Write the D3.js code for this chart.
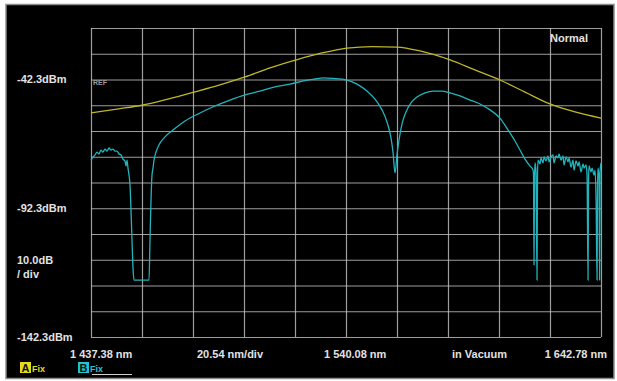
<!DOCTYPE html>
<html>
<head>
<meta charset="utf-8">
<script src="https://cdn.jsdelivr.net/npm/d3@7"></script>
<style>
	body { margin: 0; background: #fff; }
	svg { display: block; }
	text { font-family: "Liberation Sans", Arial, sans-serif; font-weight: bold; }
</style>
</head>
<body>
<svg id="chart" width="617" height="381"></svg>
<script>
(function (d3) {
	"use strict";

	/***** Data *****/

	// Axis settings
	var startNm = 1437.38;
	var nmPerDiv = 20.54;
	var xDivs = 10;
	var refDbm = -22.3;    // top of the screen
	var dbPerDiv = 10;
	var yDivs = 12;

	var yLabels = [-42.3, -92.3, -142.3];
	var xLabels = ["1 437.38 nm", "20.54 nm/div", "1 540.08 nm", "in Vacuum", "1 642.78 nm"];

	// Trace A (yellow), nm / dBm
	var traceA_nm = [1437.4, 1447.8, 1458.3, 1468.4, 1478.9, 1489.3, 1499.4, 1509.5, 1520.0, 1530.4,
		1540.5, 1550.6, 1560.6, 1569.9, 1582.0, 1592.0, 1602.1, 1612.2, 1622.2, 1632.3, 1642.78];
	var traceA_dbm = [-55.3, -53.8, -52.2, -49.9, -47.2, -44.4, -41.3, -37.8, -34.7, -32.0,
		-30.1, -29.5, -29.7, -31.2, -34.7, -38.6, -42.5, -47.2, -51.8, -54.9, -57.3];

	// Trace B (cyan), nm / dBm
	var traceB_nm = [1437.38, 1438.19, 1438.99, 1439.80, 1440.60, 1441.41, 1442.21, 1443.02, 1443.82, 1444.63,
		1445.43, 1446.24, 1447.04, 1447.85, 1448.66, 1449.46, 1450.27, 1451.07, 1451.48, 1451.88,
		1452.28, 1452.68, 1453.09, 1453.49, 1453.89, 1454.30, 1454.70, 1460.74, 1461.14, 1461.55,
		1461.95, 1462.35, 1462.76, 1463.56, 1465.17, 1467.18, 1470.41, 1475.24, 1481.28, 1487.32,
		1493.36, 1499.40, 1505.44, 1511.49, 1517.53, 1523.57, 1527.60, 1530.82, 1534.85, 1540.48,
		1544.51, 1548.54, 1551.76, 1554.58, 1556.59, 1558.20, 1559.01, 1559.82, 1560.62, 1561.43,
		1562.63, 1564.25, 1566.26, 1568.68, 1571.90, 1575.12, 1578.75, 1581.97, 1585.99, 1590.02,
		1594.05, 1598.07, 1602.10, 1605.33, 1608.14, 1610.16, 1612.17, 1614.19, 1615.40, 1615.60,
		1615.80, 1616.00, 1616.20, 1616.61, 1617.01, 1617.21, 1617.41, 1618.22, 1618.62, 1619.43,
		1619.83, 1620.64, 1621.44, 1621.85, 1622.65, 1623.46, 1623.86, 1624.67, 1625.47, 1625.88,
		1626.68, 1627.49, 1627.89, 1628.70, 1629.50, 1629.91, 1630.71, 1631.52, 1631.92, 1632.73,
		1633.53, 1633.94, 1634.74, 1635.55, 1635.95, 1636.76, 1637.16, 1637.56, 1637.76, 1637.97,
		1638.77, 1639.18, 1639.98, 1640.39, 1640.79, 1641.19, 1641.39, 1641.60, 1642.00, 1642.20,
		1642.40, 1642.78];
	var traceB_dbm = [-73.6, -72.4, -71.6, -70.5, -71.2, -69.7, -70.5, -69.3, -70.1, -68.9,
		-69.7, -69.3, -70.1, -70.1, -71.2, -71.6, -73.2, -74.0, -75.9, -73.6,
		-76.7, -79.4, -83.3, -93.0, -104.6, -115.5, -120.2, -120.2, -104.6, -89.1,
		-79.4, -76.7, -73.6, -70.5, -67.0, -64.6, -61.9, -58.4, -55.3, -52.6,
		-50.3, -48.3, -46.8, -45.2, -44.1, -42.7, -42.1, -41.7, -41.9, -42.5,
		-44.1, -46.8, -49.9, -54.1, -58.8, -65.0, -70.5, -78.6, -71.6, -65.8,
		-59.6, -54.9, -51.4, -49.1, -47.5, -46.8, -46.8, -47.5, -48.7, -50.3,
		-51.8, -54.1, -57.3, -61.9, -66.2, -69.7, -73.2, -75.9, -77.5, -79.4,
		-114.3, -81.3, -74.7, -78.2, -120.2, -79.4, -73.6, -75.1, -72.7, -74.7,
		-72.4, -73.9, -72.0, -74.3, -72.4, -71.6, -74.7, -72.0, -72.7, -71.2,
		-73.6, -72.0, -75.5, -72.4, -74.3, -72.7, -76.3, -73.6, -77.5, -73.9,
		-75.9, -74.3, -78.2, -75.1, -76.7, -75.5, -79.4, -120.2, -81.3, -75.9,
		-78.2, -76.7, -79.4, -77.5, -89.1, -120.2, -83.3, -76.7, -80.6, -120.2,
		-78.2, -74.7];

	/***** Layout *****/
	var svg = d3.select("#chart");
	var plot = { left: 91, top: 28, width: 510, height: 309 };
	var textColor = "#e2e2e2";
	var gridColor = "#c4c4c4";

	var x = d3.scaleLinear()
		.domain([startNm, startNm + nmPerDiv * xDivs])
		.range([plot.left, plot.left + plot.width]);
	var y = d3.scaleLinear()
		.domain([refDbm - dbPerDiv * yDivs, refDbm])
		.range([plot.top + plot.height, plot.top]);

	// Screen frame
	svg.append("rect")
		.attr("x", 6).attr("y", 4.5)
		.attr("width", 608).attr("height", 374)
		.attr("fill", "#000")
		.attr("stroke", "#8c8c8c")
		.attr("stroke-width", 1.5);

	/***** Grid *****/
	var xTicks = d3.range(xDivs + 1).map(function (i) { return startNm + i * nmPerDiv; });
	var yTicks = d3.range(yDivs + 1).map(function (i) { return refDbm - i * dbPerDiv; });

	var gridX = svg.append("g")
		.attr("transform", "translate(0," + (plot.top + plot.height) + ")")
		.call(d3.axisBottom(x).tickValues(xTicks).tickSize(-plot.height).tickFormat(""));
	var gridY = svg.append("g")
		.attr("transform", "translate(" + plot.left + ",0)")
		.call(d3.axisLeft(y).tickValues(yTicks).tickSize(-plot.width).tickFormat(""));

	[gridX, gridY].forEach(function (g) {
		g.select(".domain").remove();
		g.selectAll("line").attr("stroke", gridColor).attr("stroke-width", 1.2).attr("opacity", 0.8);
	});

	/***** Traces *****/
	var line = d3.line()
		.x(function (d) { return x(d[0]); })
		.y(function (d) { return y(d[1]); })
		.curve(d3.curveMonotoneX);

	svg.append("path")
		.datum(d3.zip(traceA_nm, traceA_dbm))
		.attr("d", line)
		.attr("fill", "none")
		.attr("stroke", "#bdb62a")
		.attr("stroke-width", 1.3);

	svg.append("path")
		.datum(d3.zip(traceB_nm, traceB_dbm))
		.attr("d", line)
		.attr("fill", "none")
		.attr("stroke", "#22b4bc")
		.attr("stroke-width", 1.3);

	/***** Texts *****/
	svg.selectAll(".ylab")
		.data(yLabels)
		.enter().append("text")
		.attr("class", "ylab")
		.attr("x", 17)
		.attr("y", function (d) { return y(d); })
		.attr("dy", "0.35em")
		.attr("font-size", 11)
		.attr("fill", textColor)
		.text(function (d) { return d.toFixed(1) + "dBm"; });

	svg.append("text")
		.attr("x", 17).attr("y", 260).attr("dy", "0.35em")
		.attr("font-size", 11).attr("fill", textColor)
		.text(dbPerDiv.toFixed(1) + "dB");
	svg.append("text")
		.attr("x", 17).attr("y", 274).attr("dy", "0.35em")
		.attr("font-size", 11).attr("fill", textColor)
		.text("/ div");

	svg.append("text")
		.attr("x", 93).attr("y", y(-42.3) + 3).attr("dy", "0.35em")
		.attr("font-size", 7).attr("font-weight", "normal").attr("fill", "#9a9a9a")
		.text("REF");

	svg.append("text")
		.attr("x", 588).attr("y", 38).attr("dy", "0.35em")
		.attr("text-anchor", "end")
		.attr("font-size", 11).attr("fill", textColor)
		.text("Normal");

	// bottom row: start positions
	var xLabelPos = [70, 197, 324, 452, 607];
	svg.selectAll(".xlab")
		.data(xLabels)
		.enter().append("text")
		.attr("class", "xlab")
		.attr("x", function (d, i) { return xLabelPos[i]; })
		.attr("y", 354)
		.attr("dy", "0.35em")
		.attr("text-anchor", function (d, i) { return i == xLabels.length - 1 ? "end" : "start"; })
		.attr("font-size", 11)
		.attr("fill", textColor)
		.text(function (d) { return d; });

	/***** Trace legend *****/
	var legend = [
		{ key: "A", color: "#e6dc1e", x: 20 },
		{ key: "B", color: "#22c4cc", x: 78 }
	];
	var lg = svg.selectAll(".lg").data(legend).enter().append("g")
		.attr("transform", function (d) { return "translate(" + d.x + ",362)"; });
	lg.append("rect")
		.attr("width", 11).attr("height", 11)
		.attr("fill", function (d) { return d.color; });
	lg.append("text")
		.attr("x", 5.5).attr("y", 10)
		.attr("text-anchor", "middle")
		.attr("font-size", 11).attr("fill", "#111")
		.text(function (d) { return d.key; });
	lg.append("text")
		.attr("x", 12).attr("y", 9.5)
		.attr("font-size", 9).attr("font-weight", "normal")
		.attr("fill", function (d) { return d.color; })
		.text("Fix");

	svg.append("line")
		.attr("x1", 92).attr("x2", 132)
		.attr("y1", 374.5).attr("y2", 374.5)
		.attr("stroke", "#cfcfcf").attr("stroke-width", 1);

})(d3);
</script>
</body>
</html>
